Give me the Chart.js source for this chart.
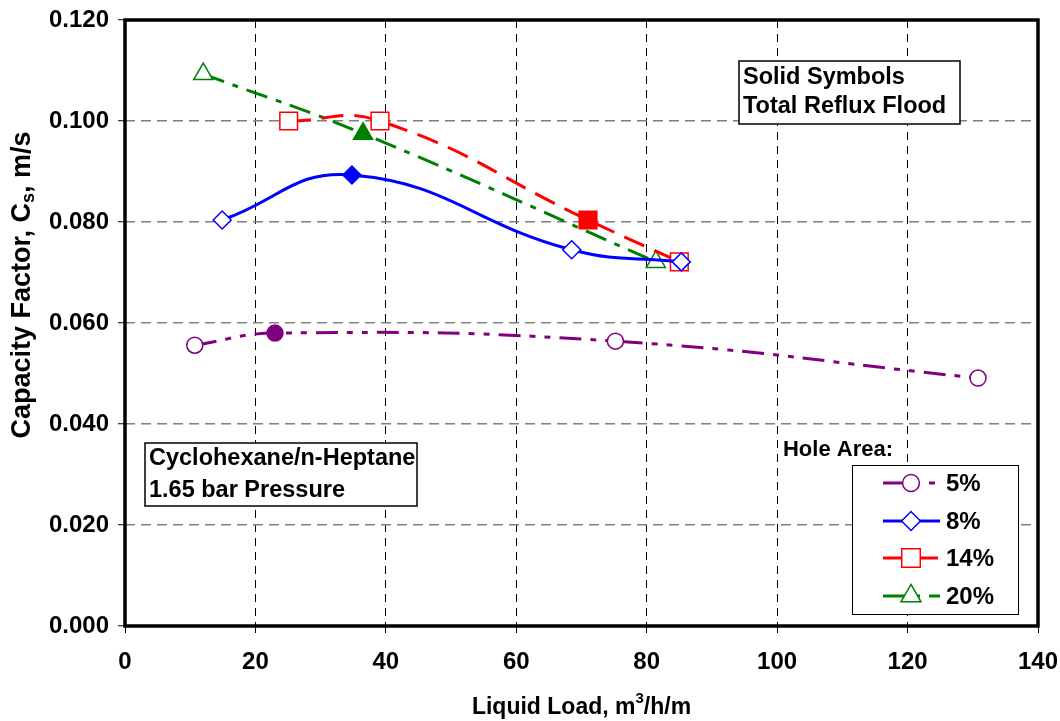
<!DOCTYPE html>
<html>
<head>
<meta charset="utf-8">
<title>Capacity Factor vs Liquid Load</title>
<script src="https://cdn.jsdelivr.net/npm/chart.js@4.4.1/dist/chart.umd.min.js"></script>
<style>
    html, body { margin: 0; padding: 0; background: #ffffff; }
    #wrap { width: 1060px; height: 721px; }
</style>
</head>
<body>
<div id="wrap"><canvas id="capacityChart" width="1060" height="721"></canvas></div>
<script>

// =============================
// DATA
// =============================

const xTicks = [0, 20, 40, 60, 80, 100, 120, 140];
const yTicks = [0.000, 0.020, 0.040, 0.060, 0.080, 0.100, 0.120];

const holeAreas = ["5%", "8%", "14%", "20%"];

const hole5Load = [10.7, 23.0, 75.2, 130.8];
const hole5Cs   = [0.0556, 0.0580, 0.0564, 0.0491];

const hole8Load = [14.9, 34.8, 68.5, 85.3];
const hole8Cs   = [0.0804, 0.0893, 0.0745, 0.0721];

const hole14Load = [25.1, 39.1, 71.0, 85.0];
const hole14Cs   = [0.1000, 0.1000, 0.0804, 0.0721];

const hole20Load = [12.0, 36.5, 81.4];
const hole20Cs   = [0.1093, 0.0975, 0.0721];

// index of the solid symbol (total reflux flood) in each series
const floodPoint = [1, 1, 2, 1];


// =============================
// STYLES
// =============================

const FONT = "'Liberation Sans', Arial, sans-serif";

const seriesStyle = [
    { color: "#800080", dash: [22, 9, 6, 9, 6, 9], point: "circle",   radius: 8 },
    { color: "#0000ff", dash: [],                  point: "rectRot",  radius: 9 },
    { color: "#ff0000", dash: [22, 11],            point: "rect",     radius: 12.5 },
    { color: "#008000", dash: [22, 9, 6, 9],       point: "triangle", radius: 11 }
];

function toPoints(xs, ys) {
    return xs.map((x, i) => ({ x: x, y: ys[i] }));
}

function makeDataset(label, xs, ys, idx) {
    const st = seriesStyle[idx];
    const fills = xs.map((x, i) => i === floodPoint[idx] ? st.color : "#ffffff");
    return {
        label: label,
        data: toPoints(xs, ys),
        borderColor: st.color,
        borderWidth: 3,
        borderDash: st.dash,
        tension: 0.45,
        fill: false,
        pointStyle: st.point,
        pointRadius: st.radius,
        pointHoverRadius: st.radius,
        pointBorderWidth: 1.5,
        pointBorderColor: st.color,
        pointBackgroundColor: fills
    };
}


// =============================
// DRAWING HELPERS
// =============================

function textBox(ctx, x, y, w, h, lines, lineY) {
    ctx.save();
    ctx.fillStyle = "#ffffff";
    ctx.fillRect(x, y, w, h);
    ctx.strokeStyle = "#000000";
    ctx.lineWidth = 1.5;
    ctx.strokeRect(x, y, w, h);
    ctx.fillStyle = "#000000";
    ctx.font = "bold 23.5px " + FONT;
    ctx.textBaseline = "middle";
    ctx.textAlign = "left";
    lines.forEach((t, i) => ctx.fillText(t, x + 4, lineY[i]));
    ctx.restore();
}

const decorPlugin = {
    id: "decor",
    afterDraw(chart) {
        const ctx = chart.ctx;
        const area = chart.chartArea;

        // plot frame
        ctx.save();
        ctx.strokeStyle = "#000000";
        ctx.lineWidth = 3.5;
        ctx.strokeRect(area.left, area.top, area.right - area.left, area.bottom - area.top);
        ctx.restore();

        // y axis title with subscript
        ctx.save();
        ctx.translate(23, 285);
        ctx.rotate(-Math.PI / 2);
        ctx.fillStyle = "#000000";
        ctx.textBaseline = "middle";
        ctx.textAlign = "left";
        const big = "bold 27px " + FONT;
        const small = "bold 18px " + FONT;
        ctx.font = big;
        const p1 = "Capacity Factor, C";
        const p3 = ", m/s";
        const w1 = ctx.measureText(p1).width;
        const w3 = ctx.measureText(p3).width;
        ctx.font = small;
        const w2 = ctx.measureText("s").width;
        let sx = -(w1 + w2 + w3) / 2;
        ctx.font = big;
        ctx.fillText(p1, sx, 0);
        ctx.font = small;
        ctx.fillText("s", sx + w1, 6);
        ctx.font = big;
        ctx.fillText(p3, sx + w1 + w2, 0);
        ctx.restore();

        // x axis title with superscript
        ctx.save();
        ctx.fillStyle = "#000000";
        ctx.textBaseline = "alphabetic";
        ctx.textAlign = "left";
        const xb = "bold 23px " + FONT;
        const xs = "bold 15px " + FONT;
        ctx.font = xb;
        const q1 = "Liquid Load, m";
        const q3 = "/h/m";
        const v1 = ctx.measureText(q1).width;
        const v3 = ctx.measureText(q3).width;
        ctx.font = xs;
        const v2 = ctx.measureText("3").width;
        let tx = (area.left + area.right) / 2 - (v1 + v2 + v3) / 2;
        ctx.font = xb;
        ctx.fillText(q1, tx, 714);
        ctx.font = xs;
        ctx.fillText("3", tx + v1, 703);
        ctx.font = xb;
        ctx.fillText(q3, tx + v1 + v2, 714);
        ctx.restore();

        // note boxes
        textBox(ctx, 739, 61, 221, 63, ["Solid Symbols", "Total Reflux Flood"], [78, 107]);
        textBox(ctx, 145, 443, 272, 63, ["Cyclohexane/n-Heptane", "1.65 bar Pressure"], [459, 491]);

        // legend
        ctx.save();
        ctx.fillStyle = "#000000";
        ctx.font = "bold 22px " + FONT;
        ctx.textAlign = "right";
        ctx.textBaseline = "middle";
        ctx.fillText("Hole Area:", 893, 450);

        ctx.fillStyle = "#ffffff";
        ctx.fillRect(852, 465, 166, 149);
        ctx.strokeStyle = "#000000";
        ctx.lineWidth = 1;
        ctx.strokeRect(852.5, 465.5, 166, 149);

        const rowY = [483, 521, 558, 596];
        holeAreas.forEach((name, i) => {
            const st = seriesStyle[i];
            ctx.save();
            ctx.strokeStyle = st.color;
            ctx.lineWidth = 3;
            ctx.setLineDash(st.dash);
            ctx.beginPath();
            ctx.moveTo(883, rowY[i]);
            ctx.lineTo(940, rowY[i]);
            ctx.stroke();
            ctx.setLineDash([]);
            ctx.fillStyle = "#ffffff";
            ctx.lineWidth = 1.5;
            Chart.helpers.drawPoint(ctx, {
                pointStyle: st.point,
                radius: st.radius * 1.05,
                rotation: 0,
                borderWidth: 1.5
            }, 911, rowY[i]);
            ctx.restore();

            ctx.fillStyle = "#000000";
            ctx.font = "bold 24px " + FONT;
            ctx.textAlign = "left";
            ctx.fillText(name, 946, rowY[i] + 1);
        });
        ctx.restore();
    }
};


// =============================
// CHART
// =============================

document.addEventListener("DOMContentLoaded", function () {

    const datasets = [
        makeDataset(holeAreas[0], hole5Load, hole5Cs, 0),
        makeDataset(holeAreas[1], hole8Load, hole8Cs, 1),
        makeDataset(holeAreas[2], hole14Load, hole14Cs, 2),
        makeDataset(holeAreas[3], hole20Load, hole20Cs, 3)
    ];

    new Chart(document.getElementById("capacityChart"), {
        type: "line",
        data: { datasets: datasets },
        options: {
            responsive: false,
            animation: false,
            layout: { padding: { top: 20, right: 22, left: 0, bottom: 0 } },
            plugins: {
                legend: { display: false },
                tooltip: { enabled: false }
            },
            scales: {
                x: {
                    type: "linear",
                    min: xTicks[0],
                    max: xTicks[xTicks.length - 1],
                    afterBuildTicks: (scale) => { scale.ticks = xTicks.map(v => ({ value: v })); },
                    afterFit: (scale) => {
                        scale.height = 95;
                        scale.paddingLeft = 0;
                        scale.paddingRight = 0;
                    },
                    grid: {
                        color: "#000000",
                        lineWidth: 1,
                        tickLength: 7,
                        tickColor: "#000000",
                        tickWidth: 1
                    },
                    border: { display: false, dash: [8, 6] },
                    ticks: {
                        color: "#000000",
                        padding: 15,
                        maxRotation: 0,
                        font: { family: FONT, size: 24, weight: "bold" },
                        callback: (v) => String(v)
                    }
                },
                y: {
                    type: "linear",
                    min: yTicks[0],
                    max: yTicks[yTicks.length - 1],
                    afterBuildTicks: (scale) => { scale.ticks = yTicks.map(v => ({ value: v })); },
                    afterFit: (scale) => {
                        scale.width = 125;
                        scale.paddingTop = 0;
                        scale.paddingBottom = 0;
                    },
                    grid: {
                        color: "#808080",
                        lineWidth: 1.5,
                        tickLength: 7,
                        tickColor: "#000000",
                        tickWidth: 1
                    },
                    border: { display: false, dash: [10, 6] },
                    ticks: {
                        color: "#000000",
                        padding: 9,
                        font: { family: FONT, size: 24, weight: "bold" },
                        callback: (v) => v.toFixed(3)
                    }
                }
            }
        },
        plugins: [decorPlugin]
    });

});
</script>
</body>
</html>
